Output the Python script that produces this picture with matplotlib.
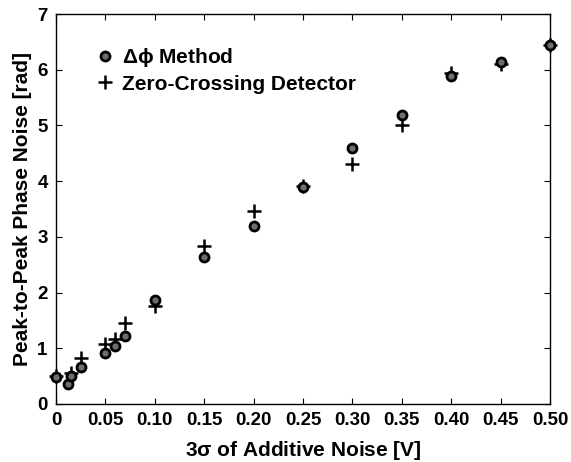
import numpy as np
import matplotlib
matplotlib.use('Agg')
import matplotlib.pyplot as plt

plt.rcParams['font.family'] = ['Liberation Sans', 'DejaVu Sans']
plt.rcParams['font.weight'] = 'bold'
plt.rcParams['mathtext.fontset'] = 'custom'
plt.rcParams['mathtext.rm'] = 'Liberation Sans:bold'
plt.rcParams['mathtext.it'] = 'Liberation Sans:bold'

# delta-phi method
x_dphi = [0, 0.0125, 0.015, 0.025, 0.05, 0.06, 0.07, 0.10, 0.15, 0.20, 0.25, 0.30, 0.35, 0.40, 0.45, 0.50]
y_dphi = [0.48, 0.36, 0.51, 0.67, 0.92, 1.04, 1.22, 1.87, 2.64, 3.20, 3.89, 4.60, 5.18, 5.88, 6.13, 6.44]

# zero-crossing detector
x_zc = [0, 0.015, 0.025, 0.05, 0.06, 0.07, 0.10, 0.15, 0.20, 0.25, 0.30, 0.35, 0.40, 0.45, 0.50]
y_zc = [0.50, 0.56, 0.82, 1.07, 1.16, 1.45, 1.76, 2.83, 3.46, 3.92, 4.30, 5.00, 5.95, 6.10, 6.45]

xticks = [0, 0.05, 0.10, 0.15, 0.20, 0.25, 0.30, 0.35, 0.40, 0.45, 0.50]
xticklabels = ['0', '0.05', '0.10', '0.15', '0.20', '0.25', '0.30', '0.35', '0.40', '0.45', '0.50']

fig = plt.figure(figsize=(5.71, 4.62), dpi=100)
ax = fig.add_axes([56/571, 1 - 404/462, 494/571, 390/462])

ax.plot(x_zc, y_zc, '+', color='black', markersize=10, markeredgewidth=1.8,
        label='Zero-Crossing Detector', clip_on=False, zorder=3)
ax.plot(x_dphi, y_dphi, 'o', markerfacecolor='#6e6e6e', markeredgecolor='black',
        markeredgewidth=2.0, markersize=6.5, label=r'$\Delta\phi$ Method', clip_on=False, zorder=4)

ax.set_xlim(0, 0.5)
ax.set_ylim(0, 7)
ax.set_xticks(xticks)
ax.set_xticklabels(xticklabels)
ax.set_yticks(range(0, 8))
ax.tick_params(direction='in', top=True, right=True, length=4, labelsize=13.5, pad=6)
for s in ax.spines.values():
    s.set_linewidth(1.0)

ax.set_xlabel(r'3$\sigma$ of Additive Noise [V]', fontsize=15, fontweight='bold', labelpad=7)
ax.set_ylabel('Peak-to-Peak Phase Noise [rad]', fontsize=15, fontweight='bold')

h, l = ax.get_legend_handles_labels()
ax.legend(h[::-1], l[::-1], loc='upper left', bbox_to_anchor=(0.04, 0.965), frameon=False,
          fontsize=15, handletextpad=0.3, labelspacing=0.25, handlelength=1.0)

plt.savefig('out.png', dpi=100)
